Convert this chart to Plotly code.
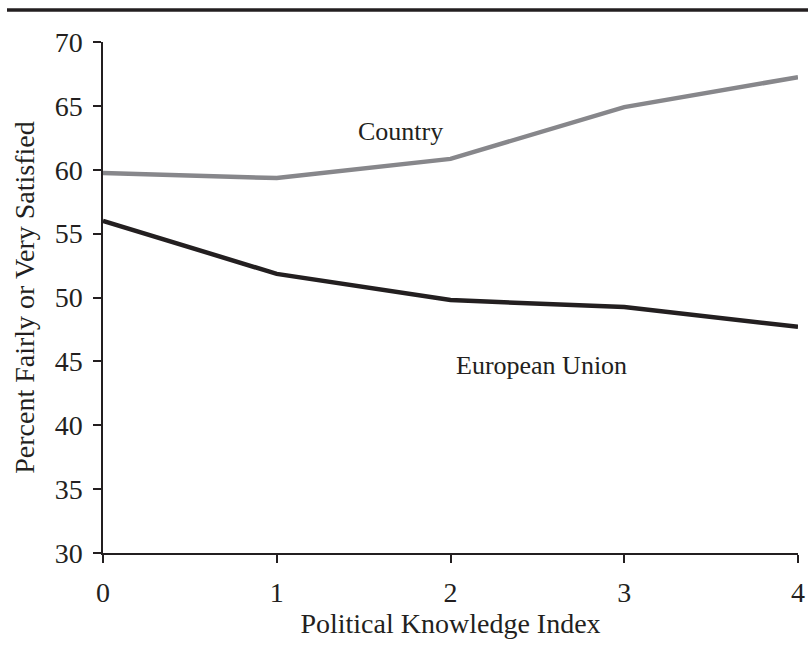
import plotly.graph_objects as go

knowledge = [0, 1, 2, 3, 4]
country = [59.75, 59.35, 60.85, 64.9, 67.25]
european_union = [56.0, 51.85, 49.8, 49.25, 47.7]
y_ticks = [30, 35, 40, 45, 50, 55, 60, 65, 70]

W, H = 808, 647
L, R, T, B = 103, 10, 42, 94
pw, ph = W - L - R, H - T - B

font = "Liberation Serif, Times New Roman, serif"
ink = "#231f20"

fig = go.Figure()
fig.add_trace(go.Scatter(x=knowledge, y=country, mode="lines",
                         line=dict(color="#87878b", width=4.5), name="Country"))
fig.add_trace(go.Scatter(x=knowledge, y=european_union, mode="lines",
                         line=dict(color=ink, width=4.5), name="European Union"))

fig.add_annotation(x=1.715, y=63.0, text="Country", showarrow=False,
                   font=dict(family=font, size=26, color=ink))
fig.add_annotation(x=2.524, y=44.65, text="European Union", showarrow=False,
                   font=dict(family=font, size=26, color=ink))

fig.add_shape(type="line", xref="paper", yref="paper",
              x0=(7 - L) / pw, x1=(W - L) / pw,
              y0=(H - B - 10) / ph, y1=(H - B - 10) / ph,
              line=dict(color=ink, width=3.5))

axis_common = dict(showgrid=False, zeroline=False, showline=True, linecolor=ink,
                   linewidth=1.5, ticks="outside", ticklen=8, tickwidth=1.5,
                   tickcolor=ink, tickfont=dict(family=font, size=28, color=ink),
                   automargin=False, ticklabeloverflow="allow")

fig.update_xaxes(range=[0, 4], tickvals=knowledge, ticklabelstandoff=6, title=dict(
    text="Political Knowledge Index", font=dict(family=font, size=28, color=ink),
    standoff=6), **axis_common)
fig.update_yaxes(range=[30, 70], tickvals=y_ticks, ticklabelstandoff=5, title=dict(
    text="Percent Fairly or Very Satisfied", font=dict(family=font, size=28, color=ink),
    standoff=12), **axis_common)

fig.update_layout(width=W, height=H, autosize=False,
                  margin=dict(l=L, r=R, t=T, b=B),
                  plot_bgcolor="white", paper_bgcolor="white", showlegend=False)

fig.write_html("out.html", config={"displayModeBar": False, "responsive": False},
               post_script="document.body.style.margin='0';")
